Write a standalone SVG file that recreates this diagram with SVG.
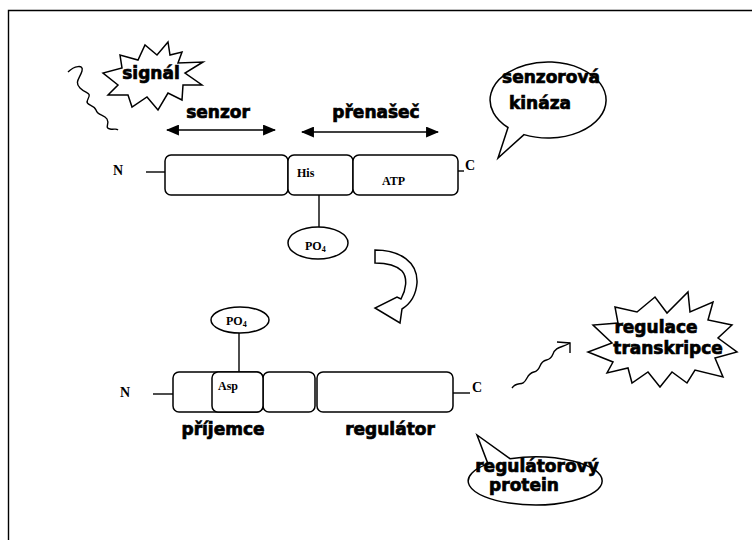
<svg xmlns="http://www.w3.org/2000/svg" width="752" height="540" viewBox="0 0 752 540">
<defs>
<style>
.lbl{font-family:"DejaVu Sans",Verdana,sans-serif;font-weight:bold;font-size:17px;text-anchor:middle;fill:#000;stroke:#000;stroke-width:0.7}
.ser{font-family:"Liberation Serif","Times New Roman",serif;font-weight:bold;fill:#000}
.box{fill:#fff;stroke:#000;stroke-width:1.5}
.ln{fill:none;stroke:#000;stroke-width:1.4}
.shape{fill:#fff;stroke:#000;stroke-width:1.5;stroke-linejoin:miter}
</style>
<marker id="ah" viewBox="0 0 12 10" refX="11" refY="5" markerWidth="13" markerHeight="11" markerUnits="userSpaceOnUse" orient="auto-start-reverse">
<path d="M0,0 L12,5 L0,10 Z" fill="#000"/>
</marker>
</defs>
<rect width="752" height="540" fill="#fff"/>
<g id="frame"><path d="M8.5,540 V10.5 H752" class="ln" stroke-width="1.6"/></g>

<g id="signal">
<path class="ln" d="M68,72 C74,66 84,64 82,71 C80,78 74,82 80,88 C86,94 92,92 88,99 C84,106 94,104 96,110 C98,116 104,114 107,119 C110,124 104,128 110,129 C114,130 116,128 118,130"/>
<polygon class="shape" points="168,42 170,55 182,52 178,63 203,62 185,73 202,85 183,85 182,100 168,93 158,110 147,97 132,107 128,95 108,95 118,85 103,73 122,68 120,55 138,60 145,45 157,55"/>
<text class="lbl" x="151" y="79">signál</text>
</g>

<g id="senzor-label">
<text class="lbl" x="218" y="118">senzor</text>
</g>
<g id="prenasec-label">
<text class="lbl" x="376" y="118">přenašeč</text>
</g>

<g id="senzorova-kinaza">
<path class="shape" d="M524,134.6 A58,38 0 1 0 508,127.5 L498,158 Z"/>
<text class="lbl" x="551" y="83">senzorová</text>
<text class="lbl" x="540" y="109">kináza</text>
</g>

<g id="sensor-protein">
<text class="ser" x="113" y="175" font-size="14">N</text>
<rect class="box" x="165" y="155" width="123" height="40" rx="6"/>
<rect class="box" x="288" y="155" width="65" height="40" rx="6"/>
<rect class="box" x="353" y="155" width="105" height="40" rx="6"/>
<text class="ser" x="297" y="177" font-size="12">His</text>
<text class="ser" x="382" y="185" font-size="12">ATP</text>
<text class="ser" x="465" y="170" font-size="14">C</text>
</g>

<g id="po4-top">
<ellipse class="box" cx="318" cy="243" rx="30" ry="16"/>
<text class="ser" x="305" y="250" font-size="12">PO<tspan font-size="8" dy="2">4</tspan></text>
</g>

<g id="receiver-protein">
<text class="ser" x="120" y="397" font-size="14">N</text>
<rect class="box" x="173" y="372" width="90" height="40" rx="6"/>
<rect class="box" x="263" y="372" width="52" height="40" rx="6"/>
<rect class="box" x="212" y="372" width="51" height="40" rx="6"/>
<rect class="box" x="317" y="372" width="136" height="40" rx="6"/>
<text class="ser" x="218" y="390" font-size="12">Asp</text>
<text class="ser" x="472" y="392" font-size="14">C</text>
</g>

<g id="po4-bottom">
<ellipse class="box" cx="240" cy="320" rx="29" ry="13"/>
<text class="ser" x="226" y="325" font-size="12">PO<tspan font-size="8" dy="2">4</tspan></text>
</g>

<g id="prijemce-label"><text class="lbl" x="223" y="435">příjemce</text></g>
<g id="regulator-label"><text class="lbl" x="390" y="435">regulátor</text></g>

<g id="regulace-transkripce">
<polygon class="shape" points="688,292 690,312 713,302 708,320 732,325 718,338 737,352 715,358 723,377 695,370 687,383 672,372 660,387 648,372 632,383 628,368 607,373 613,362 588,352 612,343 593,325 618,323 615,307 637,312 655,297 667,313"/>
<text class="lbl" x="656" y="333">regulace</text>
<text class="lbl" x="668" y="354">transkripce</text>
</g>

<g id="regulatorovy-protein">
<path class="shape" d="M510,458.7 A67,24 0 1 1 488,463.9 L477,435 Z"/>
<text class="lbl" x="537" y="472">regulátorový</text>
<text class="lbl" x="524" y="491">protein</text>
</g>

<g id="connectors">
<line class="ln" x1="167" y1="130" x2="275" y2="130" marker-start="url(#ah)" marker-end="url(#ah)"/>
<line class="ln" x1="302" y1="132" x2="438" y2="132" marker-start="url(#ah)" marker-end="url(#ah)"/>
<line class="ln" x1="146" y1="172" x2="165" y2="172"/>
<line class="ln" x1="458" y1="171" x2="464" y2="171"/>
<line class="ln" x1="319" y1="195" x2="319" y2="227"/>
<line class="ln" x1="153" y1="394" x2="173" y2="394"/>
<line class="ln" x1="453" y1="393" x2="470" y2="393"/>
<line class="ln" x1="239" y1="333" x2="239" y2="372"/>
<path class="shape" d="M375,250 C400,250 418,262 417,283 C416,295 410,304 402,309 L400,323 L375,308 L397,297 L401,299 C406,290 408,278 402,271 C396,265 386,263 375,263 Z"/>
<path class="ln" d="M512,388 C518,380 522,388 527,378 C532,368 536,376 540,366 C544,356 549,364 553,354 C556,346 562,348 570,343"/>
<path class="ln" d="M557,342 L570,343 L570,353"/>
</g>
</svg>
